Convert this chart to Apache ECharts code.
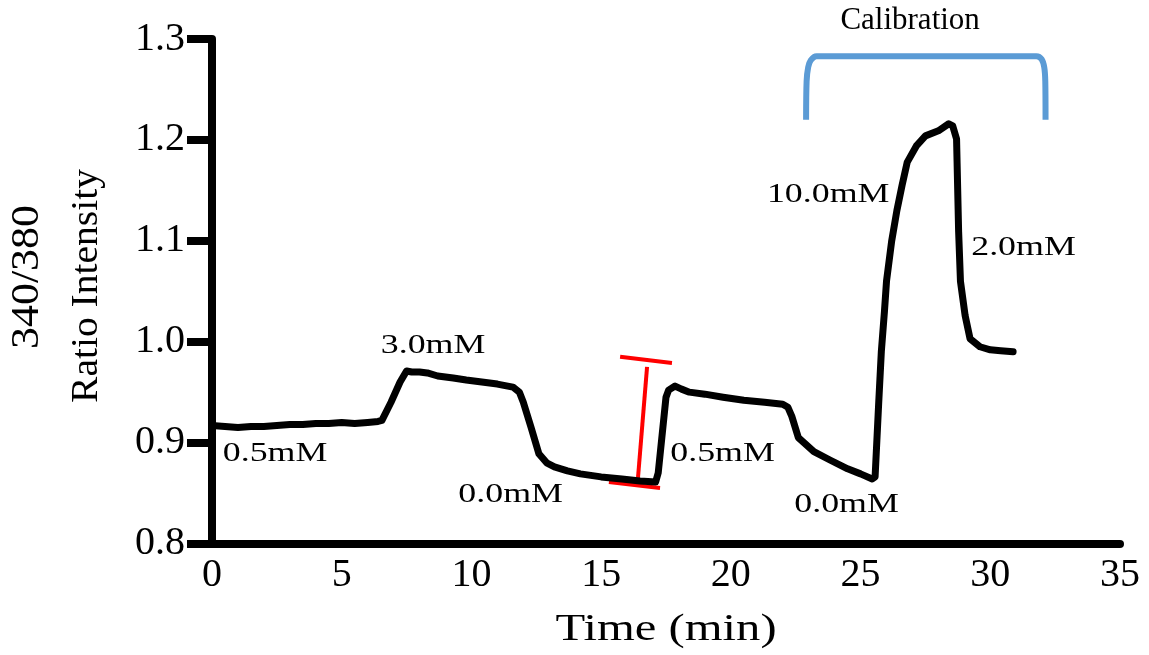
<!DOCTYPE html>
<html>
<head>
<meta charset="utf-8">
<script src="https://cdn.jsdelivr.net/npm/echarts@6/dist/echarts.min.js"></script>
<style>
html,body{margin:0;padding:0;background:#fff;}
#chart{width:1149px;height:655px;}
</style>
</head>
<body>
<div id="chart"></div>
<script>
// ---- trace data (time in min, 340/380 ratio) ----
const timeMin = [0, 0.5, 1, 1.5, 2, 2.5, 3, 3.5, 4, 4.5, 5, 5.5, 6, 6.4,
  6.55, 6.9, 7.25, 7.5, 7.7, 8.0, 8.3, 8.7, 9.3, 9.8, 10.4, 11.0, 11.6, 11.85,
  12.0, 12.3, 12.6, 12.9, 13.2, 13.7, 14.2, 15.0, 15.8, 16.5, 17.1,
  17.2, 17.4, 17.5, 17.6, 17.85, 18.1, 18.4, 19.0, 19.7, 20.5, 21.3, 22.0,
  22.2, 22.35, 22.6, 22.9, 23.2, 23.8, 24.5, 25.0, 25.45, 25.56,
  25.7, 25.8, 25.92, 26.0, 26.2, 26.4, 26.6, 26.8, 27.15, 27.5, 28.0, 28.4, 28.55,
  28.7, 28.78, 28.85, 29.03, 29.22, 29.6, 30.0, 30.4, 30.88];
const ratio = [0.917, 0.916, 0.915, 0.916, 0.916, 0.917, 0.918, 0.918, 0.919, 0.919, 0.920, 0.919, 0.920, 0.921,
  0.922, 0.940, 0.960, 0.971, 0.970, 0.970, 0.969, 0.966, 0.964, 0.962, 0.960, 0.958, 0.955, 0.950,
  0.940, 0.915, 0.889, 0.880, 0.876, 0.872, 0.869, 0.866, 0.864, 0.862, 0.861,
  0.870, 0.920, 0.945, 0.952, 0.956, 0.953, 0.950, 0.948, 0.945, 0.942, 0.940, 0.938,
  0.935, 0.926, 0.905, 0.898, 0.891, 0.883, 0.874, 0.869, 0.864, 0.866,
  0.940, 0.990, 1.030, 1.060, 1.100, 1.130, 1.155, 1.178, 1.194, 1.204, 1.209, 1.216, 1.214,
  1.201, 1.109, 1.060, 1.026, 1.003, 0.995, 0.992, 0.991, 0.990];

// ---- axis ticks ----
const xTickValues = [0, 5, 10, 15, 20, 25, 30, 35];
const yTickValues = [0.8, 0.9, 1.0, 1.1, 1.2, 1.3];

// ---- concentration labels (anchored in data coordinates) ----
const labelTexts = ['0.5mM', '3.0mM', '0.0mM', '0.5mM', '0.0mM', '10.0mM', '2.0mM'];
const labelTime  = [2.43, 8.52, 11.51, 19.68, 24.46, 23.75, 31.28];
const labelRatio = [0.889, 0.996, 0.848, 0.889, 0.839, 1.1454, 1.0929];

// ---- red bar annotation (three segments) ----
const redTopTime = [15.73, 17.73];
const redTopRatio = [0.985, 0.979];
const redVertTime = [16.77, 16.42];
const redVertRatio = [0.975, 0.865];
const redBotTime = [15.30, 17.27];
const redBotRatio = [0.861, 0.855];

// ---- calibration bracket ----
const calibTime  = [22.90, 22.92, 22.98, 23.08, 23.30, 31.78, 31.98, 32.08, 32.12, 32.13];
const calibRatio = [1.220, 1.258, 1.272, 1.279, 1.283, 1.283, 1.280, 1.272, 1.258, 1.220];
const calibTitle = 'Calibration';
const calibTitleTime = 26.91;
const calibTitleRatio = 1.318;

const zip = (a, b) => a.map((v, i) => [v, b[i]]);
const SERIF = '"Liberation Serif", "Times New Roman", serif';

const chart = echarts.init(document.getElementById('chart'), null, {renderer: 'canvas'});

const segStyle = (color, width) => ({
  type: 'line', showSymbol: false, symbol: 'none', silent: true, clip: false,
  lineStyle: {color: color, width: width, cap: 'butt', join: 'round'}
});

const option = {
  animation: false,
  backgroundColor: '#fff',
  grid: {left: 212, right: 29, top: 39, bottom: 111.5, containLabel: false},
  xAxis: {
    type: 'value', min: 0, max: 35, interval: 5,
    axisLine: {show: true, onZero: false, lineStyle: {color: '#000', width: 8}},
    axisTick: {show: false},
    splitLine: {show: false},
    axisLabel: {
      fontFamily: SERIF, fontSize: 40, color: '#000', margin: 12,
      formatter: v => (xTickValues.indexOf(v) >= 0 ? String(v) : '')
    }
  },
  yAxis: {
    type: 'value', min: 0.8, max: 1.3, interval: 0.1,
    axisLine: {show: true, onZero: false, lineStyle: {color: '#000', width: 8}},
    axisTick: {show: true, length: 25, lineStyle: {color: '#000', width: 8}},
    splitLine: {show: false},
    axisLabel: {
      fontFamily: SERIF, fontSize: 40, color: '#000', margin: 27,
      formatter: v => {
        const m = yTickValues.find(t => Math.abs(t - v) < 1e-6);
        return m === undefined ? '' : m.toFixed(1);
      }
    }
  },
  series: [
    Object.assign(segStyle('#5B9BD5', 6), {data: zip(calibTime, calibRatio), smooth: 0.3}),
    Object.assign(segStyle('#FF0000', 4), {data: zip(redTopTime, redTopRatio)}),
    Object.assign(segStyle('#FF0000', 4), {data: zip(redVertTime, redVertRatio)}),
    Object.assign(segStyle('#FF0000', 4), {data: zip(redBotTime, redBotRatio)}),
    Object.assign(segStyle('#000000', 7), {data: zip(timeMin, ratio), lineStyle: {color: '#000', width: 7, join: 'round', cap: 'round'}})
  ]
};
chart.setOption(option);

// text annotations positioned through the grid's coordinate system
const graphics = [];
labelTexts.forEach((s, i) => {
  const p = chart.convertToPixel({gridIndex: 0}, [labelTime[i], labelRatio[i]]);
  graphics.push({
    type: 'text', x: p[0], y: p[1], scaleX: 1.28, z: 100,
    style: {text: s, fontFamily: SERIF, fontSize: 28, fill: '#000', align: 'center', verticalAlign: 'middle'}
  });
});
const pc = chart.convertToPixel({gridIndex: 0}, [calibTitleTime, calibTitleRatio]);
graphics.push({
  type: 'text', x: pc[0], y: pc[1], z: 100,
  style: {text: calibTitle, fontFamily: SERIF, fontSize: 31, fill: '#000', align: 'center', verticalAlign: 'middle'}
});
// axis titles
graphics.push({
  type: 'text', x: 666, y: 630, scaleX: 1.28, z: 100,
  style: {text: 'Time (min)', fontFamily: SERIF, fontSize: 38, fill: '#000', align: 'center', verticalAlign: 'middle'}
});
graphics.push({
  type: 'text', x: 27, y: 277, rotation: Math.PI / 2, scaleX: 1.1, z: 100,
  style: {text: '340/380', fontFamily: SERIF, fontSize: 40, fill: '#000', align: 'center', verticalAlign: 'middle'}
});
graphics.push({
  type: 'text', x: 87, y: 286, rotation: Math.PI / 2, scaleX: 1.04, z: 100,
  style: {text: 'Ratio Intensity', fontFamily: SERIF, fontSize: 38, fill: '#000', align: 'center', verticalAlign: 'middle'}
});
chart.setOption({graphic: graphics});
</script>
</body>
</html>
